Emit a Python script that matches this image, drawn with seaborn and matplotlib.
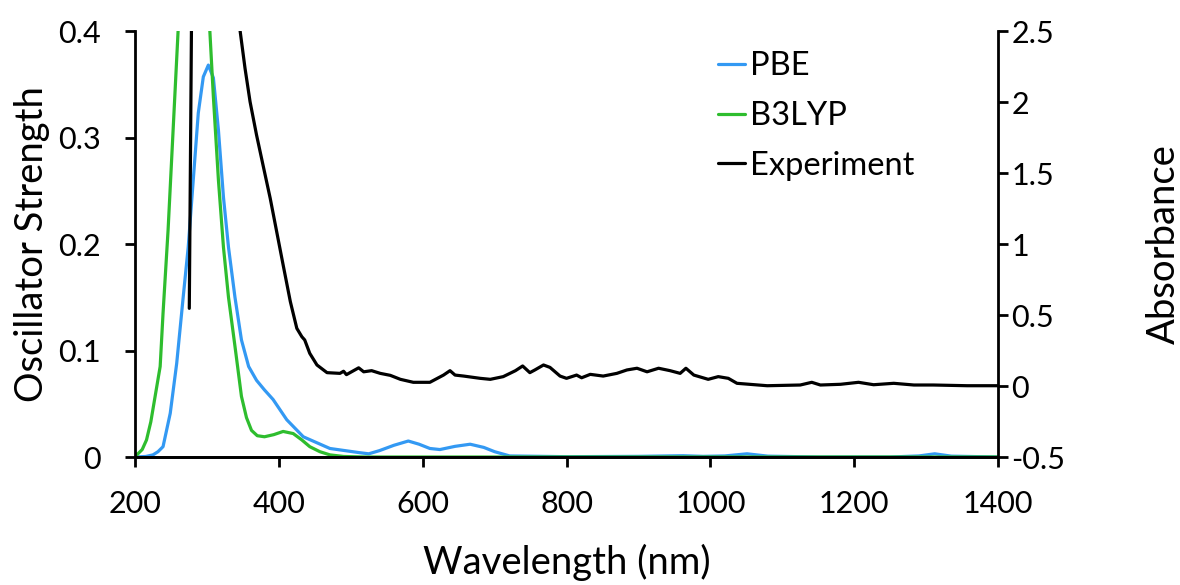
import numpy as np
import pandas as pd
import seaborn as sns
import matplotlib.pyplot as plt
from matplotlib.lines import Line2D

# PBE oscillator strength (left axis)
pbe_wl = [200, 215, 225, 232, 239, 249, 258, 267, 274, 281, 288, 295, 302, 309, 316,
          323, 330, 339, 348, 358, 369, 380, 392, 411, 434, 471, 513, 525, 540, 560,
          580, 595, 610, 624, 645, 666, 685, 700, 721, 800, 900, 940, 962, 990, 1020,
          1051, 1080, 1150, 1250, 1290, 1312, 1335, 1400]
pbe_f = [0.0, 0.0005, 0.002, 0.005, 0.0097, 0.041, 0.088, 0.150, 0.197, 0.260, 0.323,
         0.357, 0.368, 0.356, 0.307, 0.244, 0.197, 0.150, 0.110, 0.085, 0.072, 0.063,
         0.054, 0.035, 0.019, 0.008, 0.004, 0.003, 0.006, 0.011, 0.015, 0.012, 0.008,
         0.007, 0.010, 0.012, 0.009, 0.005, 0.001, 0.0003, 0.0006, 0.001, 0.0012, 0.0006,
         0.001, 0.003, 0.0008, 0.0, 0.0, 0.001, 0.003, 0.0008, 0.0]

# B3LYP oscillator strength (left axis)
b3_wl = [200, 202, 210, 216, 222, 228, 235, 239, 246, 253, 260, 270, 283, 295, 304,
         309, 316, 323, 330, 339, 348, 355, 362, 370, 380, 393, 406, 420, 432, 443,
         457, 471, 490, 520, 700, 1000, 1400]
b3_f = [0.0, 0.0016, 0.007, 0.016, 0.033, 0.057, 0.085, 0.135, 0.213, 0.307, 0.401,
        0.49, 0.55, 0.51, 0.401, 0.338, 0.260, 0.197, 0.150, 0.104, 0.057, 0.037,
        0.025, 0.020, 0.019, 0.021, 0.024, 0.022, 0.016, 0.0097, 0.005, 0.002, 0.0005,
        0.0, 0.0, 0.0, 0.0]

# experimental absorbance (right axis)
exp_wl = [275.5, 280, 300, 330, 346, 353, 360, 369, 378, 388, 397, 406, 416, 425, 432,
          436, 443, 453, 467, 485, 490, 494, 511, 518, 529, 541, 555, 569, 587, 610,
          629, 638, 645, 657, 680, 694, 712, 729, 739, 749, 756, 768, 777, 791, 800,
          814, 821, 833, 851, 870, 884, 898, 912, 928, 944, 958, 966, 977, 997, 1011,
          1025, 1037, 1079, 1125, 1141, 1153, 1181, 1206, 1227, 1255, 1283, 1310, 1357, 1400]
exp_abs = [0.547, 3.5, 4.0, 3.2, 2.507, 2.237, 2.002, 1.768, 1.556, 1.322, 1.087, 0.852,
           0.594, 0.406, 0.347, 0.324, 0.23, 0.148, 0.094, 0.089, 0.104, 0.08, 0.128, 0.1,
           0.108, 0.089, 0.075, 0.047, 0.026, 0.026, 0.077, 0.108, 0.077, 0.07, 0.054, 0.047,
           0.066, 0.108, 0.141, 0.094, 0.113, 0.148, 0.131, 0.07, 0.054, 0.077, 0.058, 0.082,
           0.07, 0.089, 0.113, 0.125, 0.1, 0.125, 0.108, 0.089, 0.125, 0.077, 0.047, 0.066,
           0.054, 0.019, 0.002, 0.007, 0.026, 0.007, 0.012, 0.026, 0.009, 0.019, 0.007,
           0.007, 0.002, 0.002]

x_ticks = [200, 400, 600, 800, 1000, 1200, 1400]
left_ticks = [0, 0.1, 0.2, 0.3, 0.4]
left_labels = ['0', '0.1', '0.2', '0.3', '0.4']
right_ticks = [-0.5, 0, 0.5, 1, 1.5, 2, 2.5]
right_labels = ['-0.5', '0', '0.5', '1', '1.5', '2', '2.5']

pbe = pd.DataFrame({'wl': pbe_wl, 'f': pbe_f})
b3 = pd.DataFrame({'wl': b3_wl, 'f': b3_f})
exp = pd.DataFrame({'wl': exp_wl, 'A': exp_abs})

sns.set_theme(style='white')
plt.rcParams['font.family'] = ['Lato', 'DejaVu Sans']
plt.rcParams['axes.unicode_minus'] = False
plt.rcParams['text.color'] = 'black'
plt.rcParams['axes.labelcolor'] = 'black'

blue = '#3399F3'
green = '#2EBD2E'
lw = 2.3

fig = plt.figure(figsize=(11.8, 5.85), dpi=100)
ax = fig.add_axes([0.1144, 0.2188, 0.7314, 0.7282])

sns.lineplot(data=pbe, x='wl', y='f', ax=ax, color=blue, lw=lw)
sns.lineplot(data=b3, x='wl', y='f', ax=ax, color=green, lw=lw)
ax.set_xlim(200, 1400)
ax.set_ylim(0, 0.4)
ax.set_xticks(x_ticks)
ax.set_yticks(left_ticks)
ax.set_yticklabels(left_labels)
ax.set_xlabel('Wavelength (nm)', fontsize=27.5, labelpad=19)
ax.set_ylabel('Oscillator Strength', fontsize=27.5, labelpad=6)

ax2 = ax.twinx()
sns.lineplot(data=exp, x='wl', y='A', ax=ax2, color='black', lw=lw)
ax2.set_ylim(-0.5, 2.5)
ax2.set_yticks(right_ticks)
ax2.set_yticklabels(right_labels)
ax2.set_ylabel('Absorbance', fontsize=27.5, labelpad=58)
ax2.set_xlim(200, 1400)

for a in (ax, ax2):
    for side in ('left', 'right', 'bottom'):
        a.spines[side].set_color('black')
        a.spines[side].set_linewidth(2)
    a.spines['top'].set_visible(False)
    a.tick_params(axis='both', which='major', labelsize=22, length=7.5, width=2,
                  color='black', direction='out', labelcolor='black')
ax2.spines['left'].set_visible(False)
ax.spines['right'].set_visible(False)
ax.tick_params(axis='x', bottom=True, pad=16)
ax.tick_params(axis='y', left=True, pad=17)
ax2.tick_params(axis='y', right=True, pad=2)

handles = [Line2D([], [], color=blue, lw=lw),
           Line2D([], [], color=green, lw=lw),
           Line2D([], [], color='black', lw=lw)]
ax2.legend(handles, ['PBE', 'B3LYP', 'Experiment'], loc='upper left',
           bbox_to_anchor=(0.675, 0.952), frameon=False, fontsize=23.5,
           handlelength=0.85, handletextpad=0.15, labelspacing=0.6,
           borderpad=0, borderaxespad=0)

fig.savefig('out.png', dpi=100)
